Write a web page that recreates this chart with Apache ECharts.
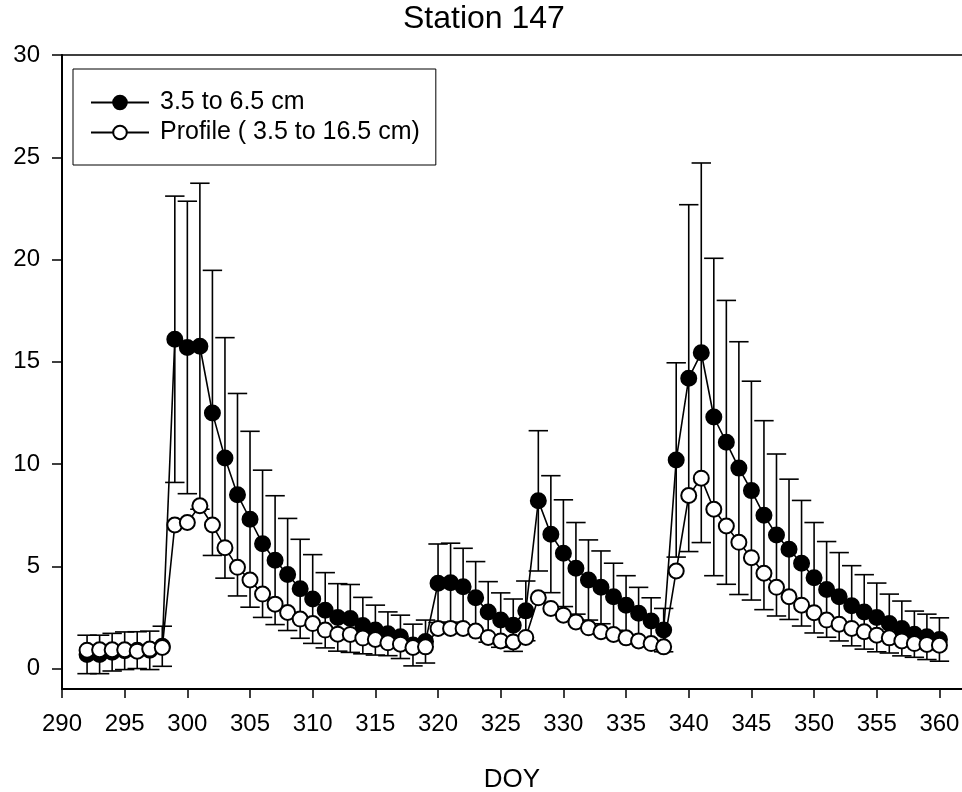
<!DOCTYPE html>
<html>
<head>
<meta charset="utf-8">
<script src="https://cdn.jsdelivr.net/npm/echarts@6/dist/echarts.min.js"></script>
<style>
html,body{margin:0;padding:0;background:#fff;}
#chart{width:962px;height:792px;}
</style>
</head>
<body>
<div id="chart"></div>
<script>
const days = [292,293,294,295,296,297,298,299,300,301,302,303,304,305,306,307,308,309,310,311,312,313,314,315,316,317,318,319,320,321,322,323,324,325,326,327,328,329,330,331,332,333,334,335,336,337,338,339,340,341,342,343,344,345,346,347,348,349,350,351,352,353,354,355,356,357,358,359,360];
const shallowMean = [0.69,0.69,0.80,0.87,0.90,0.89,1.09,16.1,15.7,15.76,12.5,10.3,8.5,7.3,6.1,5.3,4.6,3.9,3.4,2.85,2.5,2.45,2.1,1.88,1.7,1.55,1.15,1.32,4.17,4.2,4.0,3.46,2.77,2.37,2.12,2.82,8.2,6.57,5.64,4.9,4.33,3.97,3.51,3.1,2.7,2.33,1.88,10.2,14.2,15.44,12.3,11.06,9.8,8.7,7.5,6.53,5.83,5.15,4.44,3.87,3.51,3.07,2.77,2.5,2.2,1.96,1.68,1.55,1.42];
const shallowSD = [0.94,0.94,0.92,0.92,0.9,0.94,0.98,7.0,7.15,7.97,6.97,5.88,4.95,4.3,3.6,3.15,2.74,2.42,2.17,1.84,1.65,1.66,1.38,1.22,1.07,1.06,1.02,1.05,1.92,1.93,1.88,1.77,1.48,1.33,1.28,1.46,3.43,2.86,2.61,2.24,1.96,1.78,1.64,1.44,1.27,1.13,1.06,4.75,8.48,9.28,7.76,6.94,6.18,5.35,4.62,3.96,3.43,3.07,2.7,2.34,2.16,1.96,1.82,1.68,1.44,1.34,1.13,1.11,1.06];
const profileMean = [0.9,0.92,0.92,0.92,0.85,0.95,1.03,7.02,7.14,7.96,7.02,5.91,4.95,4.33,3.64,3.15,2.74,2.42,2.2,1.88,1.68,1.67,1.49,1.42,1.26,1.19,1.03,1.06,1.96,1.96,1.96,1.83,1.52,1.35,1.3,1.52,3.46,2.94,2.61,2.28,1.99,1.8,1.67,1.5,1.35,1.22,1.06,4.77,8.46,9.31,7.79,6.97,6.17,5.42,4.66,3.97,3.51,3.1,2.73,2.37,2.17,1.96,1.8,1.63,1.5,1.35,1.22,1.18,1.14];
const xTicks = [290,295,300,305,310,315,320,325,330,335,340,345,350,355,360];
const yTicks = [0,5,10,15,20,25,30];
const seriesNames = ['3.5 to 6.5 cm', 'Profile ( 3.5 to 16.5 cm)'];

const FONT = 'Liberation Sans, Arial, Helvetica, sans-serif';
const chart = echarts.init(document.getElementById('chart'), null, {renderer: 'canvas'});

const errData = days.map((d, i) => [d, shallowMean[i], shallowSD[i]]);
const blackData = days.map((d, i) => [d, shallowMean[i]]);
const whiteData = days.map((d, i) => [d, profileMean[i]]);

const option = {
  animation: false,
  backgroundColor: '#fff',
  textStyle: {fontFamily: FONT},
  graphic: [{
    type: 'text', left: 403, top: 3,
    style: {text: 'Station 147', font: '32px ' + FONT, fill: '#000'}
  }],
  grid: {left: 62, top: 55, right: 0, bottom: 103, containLabel: false, outerBoundsMode: 'none'},
  legend: {
    orient: 'vertical', left: 73, top: 69,
    backgroundColor: '#fff',
    borderColor: '#000', borderWidth: 1, borderRadius: 0,
    padding: [21, 16, 20, 17],
    itemWidth: 58, itemHeight: 17, itemGap: 5,
    textStyle: {fontFamily: FONT, fontSize: 25, color: '#000', lineHeight: 25, padding: [0,0,0,6]},
    data: seriesNames
  },
  xAxis: [{
    type: 'value', min: 290, max: 361.8,
    name: 'DOY', nameLocation: 'middle', nameGap: 78,
    nameTextStyle: {fontFamily: FONT, fontSize: 26, color: '#000'},
    axisLine: {show: true, onZero: false, lineStyle: {color: '#000', width: 2}},
    axisTick: {show: true, inside: false, length: 9, customValues: xTicks, lineStyle: {color: '#000', width: 1.5}},
    axisLabel: {show: true, margin: 23, customValues: xTicks, fontFamily: FONT, fontSize: 24, color: '#000'},
    splitLine: {show: false}
  }, {
    type: 'value', min: 290, max: 361.8, position: 'top',
    axisLine: {show: true, onZero: false, lineStyle: {color: '#000', width: 1.5}},
    axisTick: {show: false}, axisLabel: {show: false}, splitLine: {show: false}
  }],
  yAxis: {
    type: 'value', min: -1, max: 30,
    axisLine: {show: true, onZero: false, lineStyle: {color: '#000', width: 2}},
    axisTick: {show: true, inside: false, length: 10, customValues: yTicks, lineStyle: {color: '#000', width: 1.5}},
    axisLabel: {show: true, margin: 22, customValues: yTicks, fontFamily: FONT, fontSize: 24, color: '#000'},
    splitLine: {show: false}
  },
  series: [{
    type: 'custom', name: 'err', z: 1, silent: true,
    data: errData,
    encode: {x: 0, y: 1},
    renderItem: function (params, api) {
      const x = api.value(0), m = api.value(1), s = api.value(2);
      const t = api.coord([x, m + s]);
      const b = api.coord([x, m - s]);
      const hw = 9.7;
      const st = {stroke: '#000', lineWidth: 1.6};
      return {type: 'group', children: [
        {type: 'line', shape: {x1: t[0], y1: t[1], x2: b[0], y2: b[1]}, style: st},
        {type: 'line', shape: {x1: t[0] - hw, y1: t[1], x2: t[0] + hw, y2: t[1]}, style: st},
        {type: 'line', shape: {x1: b[0] - hw, y1: b[1], x2: b[0] + hw, y2: b[1]}, style: st}
      ]};
    }
  }, {
    type: 'line', name: seriesNames[0], z: 2,
    data: blackData,
    symbol: 'circle', symbolSize: 15, showAllSymbol: true,
    lineStyle: {color: '#000', width: 1.6},
    itemStyle: {color: '#000', borderColor: '#000', borderWidth: 2}
  }, {
    type: 'line', name: seriesNames[1], z: 3,
    data: whiteData,
    symbol: 'circle', symbolSize: 15, showAllSymbol: true,
    lineStyle: {color: '#000', width: 1.6},
    itemStyle: {color: '#fff', borderColor: '#000', borderWidth: 2}
  }]
};
chart.setOption(option);
</script>
</body>
</html>
